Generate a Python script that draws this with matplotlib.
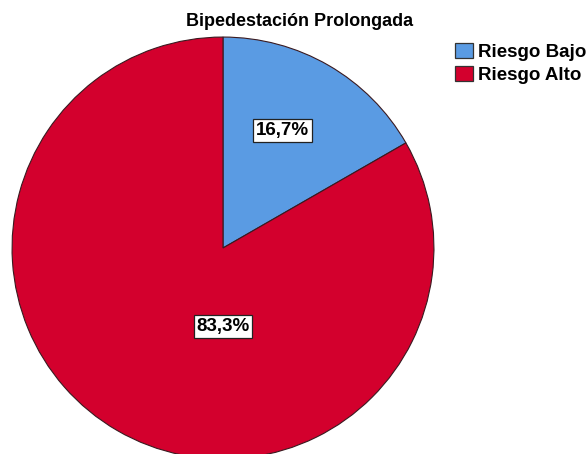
import matplotlib
matplotlib.use("Agg")
import matplotlib.pyplot as plt
from matplotlib.patches import Patch
import numpy as np

plt.rcParams['font.family'] = ['Liberation Sans', 'DejaVu Sans']

title = "Bipedestación Prolongada"
categories = ["Riesgo Bajo", "Riesgo Alto"]
values = [16.7, 83.3]
labels = ["16,7%", "83,3%"]
colors = ["#5A9BE3", "#D3002D"]
# label anchor positions in pie units (radius, angle in degrees)
label_pos = [(0.623, 63.2), (0.373, 270)]

W, H = 587, 454
fig = plt.figure(figsize=(W / 100, H / 100), dpi=100)
cx, cy, r = 223, 248, 212
ax = fig.add_axes([(cx - r) / W, (H - cy - r) / H, 2 * r / W, 2 * r / H])
ax.axis("off")

wedges, _ = ax.pie(values, colors=colors, startangle=90, counterclock=False,
                   radius=1, wedgeprops=dict(edgecolor="#3a1a20", linewidth=0.8))
ax.set_xlim(-1.005, 1.005)
ax.set_ylim(-1.005, 1.005)

for lab, (rr, ang) in zip(labels, label_pos):
    a = np.deg2rad(ang)
    ax.text(rr * np.cos(a), rr * np.sin(a), lab, ha="center", va="center",
            fontsize=13.5, fontweight="bold", color="black",
            bbox=dict(boxstyle="square,pad=0.15", facecolor="white",
                      edgecolor="#222222", linewidth=0.9))

fig.text(300 / W, 1 - 22 / H, title, ha="center", va="center",
         fontsize=13, fontweight="bold")

handles = [Patch(facecolor=c, edgecolor="#333333", linewidth=0.9) for c in colors]
fig.legend(handles, categories, loc="upper left",
           bbox_to_anchor=(455 / W, 1 - 43 / H), frameon=False,
           handlelength=0.96, handleheight=0.85, handletextpad=0.27,
           borderpad=0, borderaxespad=0, labelspacing=0.28,
           prop=dict(size=13.5, weight="bold"))

fig.savefig("out.png", dpi=100)
